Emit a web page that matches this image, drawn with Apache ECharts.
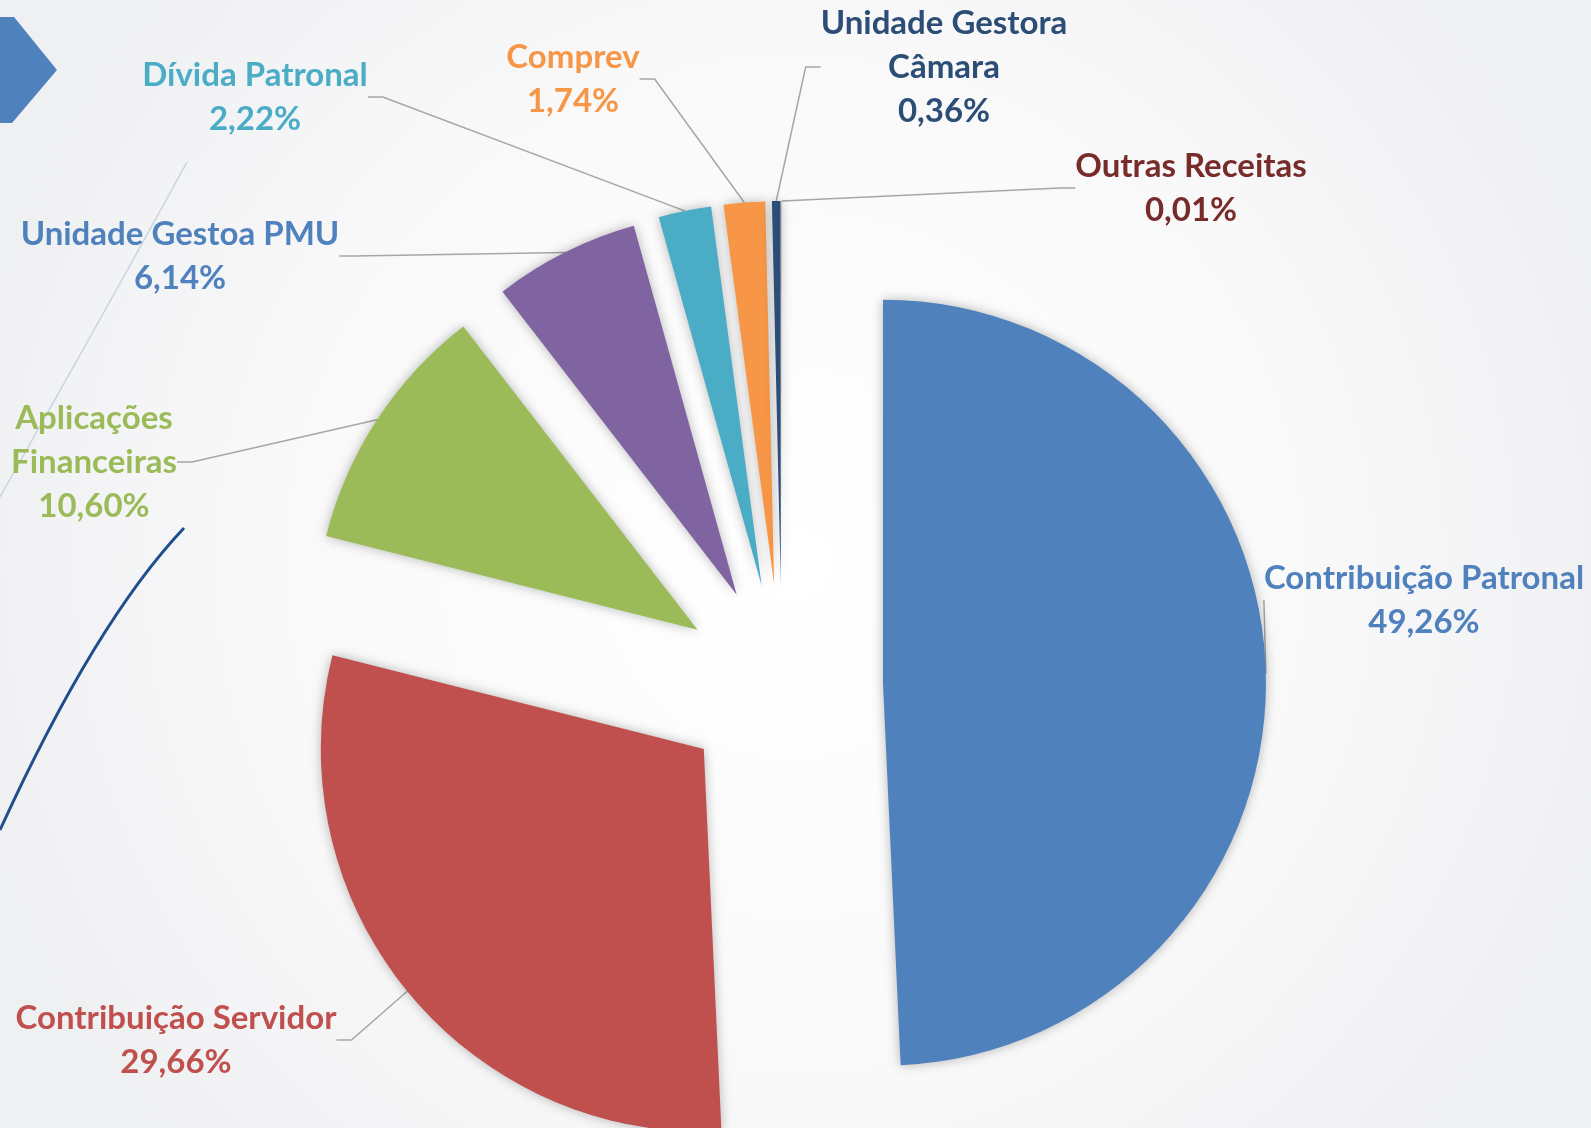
<!DOCTYPE html>
<html lang="pt-BR">
<head>
<meta charset="UTF-8">
<title>Composição das Receitas</title>
<script src="https://cdn.jsdelivr.net/npm/echarts@6/dist/echarts.min.js"></script>
<style>
    html, body { margin: 0; padding: 0; }
    #main { width: 1591px; height: 1128px; }
</style>
</head>
<body>
<div id="main"></div>
<script>
    // dados (percentual de cada receita)
    var nomes = ['Contribuição Patronal', 'Contribuição Servidor', 'Aplicações\nFinanceiras', 'Unidade Gestoa PMU',
        'Dívida Patronal', 'Comprev', 'Unidade Gestora\nCâmara', 'Outras Receitas'];
    var percentuais = [49.26, 29.66, 10.60, 6.14, 2.22, 1.74, 0.36, 0.01];

    // cores das fatias e dos rótulos
    var cores = ['#4F81BD', '#C0504D', '#9BBB59', '#8064A2', '#4BACC6', '#F79646', '#2C4D75', '#772C2A'];
    var coresRotulo = ['#4F81BD', '#C0504D', '#9BBB59', '#4F81BD', '#4BACC6', '#F79646', '#2C4D75', '#772C2A'];

    // centro de cada bloco de rótulo (px)
    var rotuloX = [1424, 176, 94, 180, 255, 573, 944, 1191];
    var rotuloY = [600, 1040, 462, 256, 97, 79, 67, 188];

    var centro = [782, 685];
    var raio = 383;
    var afastamento = 101; // fatias destacadas

    var myChart = echarts.init(document.getElementById('main'));

    var total = 0;
    for (var k = 0; k < percentuais.length; k++) total += percentuais[k];

    // uma série de pizza por fatia, deslocada ao longo do ângulo médio
    var series = [];
    var acumulado = 0;
    for (var i = 0; i < nomes.length; i++) {
        var meio = (acumulado + percentuais[i] / 2) / total * 2 * Math.PI;
        acumulado += percentuais[i];
        var dados = [];
        for (var j = 0; j < nomes.length; j++) {
            if (j === i) {
                dados.push({
                    name: nomes[j],
                    value: percentuais[j],
                    itemStyle: { color: cores[j], shadowBlur: 12, shadowColor: 'rgba(0,0,0,0.28)' },
                    label: { show: true, color: coresRotulo[j] },
                    labelLine: { show: true }
                });
            } else {
                dados.push({
                    name: nomes[j],
                    value: percentuais[j],
                    itemStyle: { color: 'rgba(0,0,0,0)' },
                    label: { show: false },
                    labelLine: { show: false }
                });
            }
        }
        series.push({
            type: 'pie',
            silent: true,
            center: [centro[0] + afastamento * Math.sin(meio), centro[1] - afastamento * Math.cos(meio)],
            radius: raio,
            startAngle: 90,
            clockwise: true,
            avoidLabelOverlap: false,
            data: dados,
            emphasis: { disabled: true },
            label: {
                position: 'outside',
                fontFamily: 'Lato',
                fontWeight: 'bold',
                fontSize: 33,
                lineHeight: 44,
                align: 'center',
                formatter: function (p) {
                    return p.name + '\n' + p.value.toFixed(2).replace('.', ',') + '%';
                }
            },
            labelLine: {
                length: 20,
                length2: 15,
                lineStyle: { color: '#A6A6A6', width: 1.5 }
            },
            labelLayout: function (p) {
                return {
                    x: rotuloX[p.dataIndex],
                    y: rotuloY[p.dataIndex],
                    align: 'center',
                    verticalAlign: 'middle'
                };
            }
        });
    }

    var option = {
        animation: false,
        backgroundColor: new echarts.graphic.RadialGradient(0.5, 0.5, 0.75, [
            { offset: 0, color: '#ffffff' },
            { offset: 0.6, color: '#f9f9fa' },
            { offset: 1, color: '#eff0f2' }
        ]),
        graphic: [
            { // seta azul no canto
                type: 'polygon',
                shape: { points: [[0, 17], [14, 17], [57, 70], [12, 123], [0, 123]] },
                style: { fill: '#4F81BD' }
            },
            { // curva clara
                type: 'bezierCurve',
                shape: { x1: 187, y1: 162, x2: 0, y2: 497, cpx1: 107, cpy1: 308 },
                style: { stroke: '#c9d2e0', lineWidth: 1.5, fill: null }
            },
            { // curva azul escura
                type: 'bezierCurve',
                shape: { x1: 184, y1: 528, x2: 0, y2: 830, cpx1: 95, cpy1: 622 },
                style: { stroke: '#1F4E8C', lineWidth: 3, fill: null }
            }
        ],
        series: series
    };

    myChart.setOption(option);
</script>
</body>
</html>
